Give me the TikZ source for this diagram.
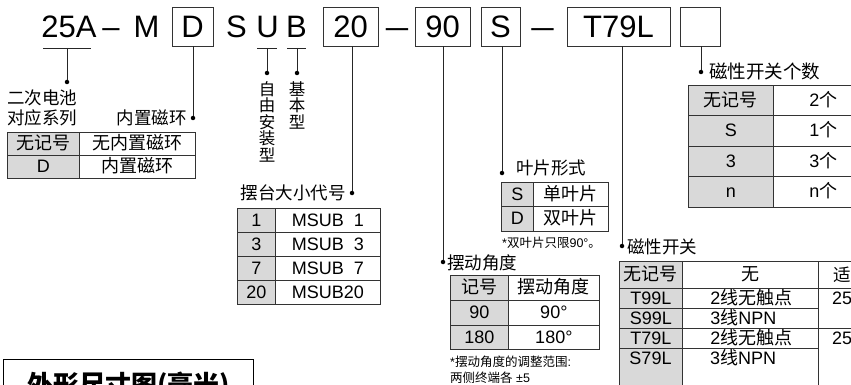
\documentclass[tikz,border=0pt]{standalone}
\usepackage{fontspec}
\setmainfont{Liberation Sans}
\newfontfamily\cjk{Noto Sans CJK SC}
\newcommand\zh[1]{{\cjk #1}}
\newcommand\longdash{\scalebox{1.3}[1]{--}}

\tikzset{
  code/.style={font=\fontsize{31}{31}\selectfont, inner sep=0pt, text height=22pt, text depth=0pt},
  codebox/.style={code, draw=black!80, line width=0.8pt, minimum height=39pt},
  lbl/.style={font=\cjk\fontsize{17.5}{18}\selectfont, inner sep=0pt},
  note/.style={font=\fontsize{12.5}{13}\selectfont, inner sep=0pt, anchor=west},
  cell/.style 2 args={draw=black!80, line width=0.7pt, inner sep=0pt, anchor=north west,
    minimum width=#1, minimum height=#2, text height=13pt, text depth=1pt,
    font=\fontsize{18}{20}\selectfont},
  gcell/.style 2 args={cell={#1}{#2}, fill=black!15},
  lcell/.style={cell={136pt}{20pt}, text width=80pt, inner xsep=28pt, align=left},
  dot/.style={circle, fill=black, inner sep=0pt, minimum size=4.5pt},
  link/.style={line width=0.8pt, black!85},
}

\begin{document}
\begin{tikzpicture}[x=1pt,y=-1pt]
  \useasboundingbox (0,0) rectangle (851,385);

  % model code
  \node[code] (t25a) at (69,26.5) {25A};
  \node[code] (dash1) at (111,26.5) {--};
  \node[code] (tm) at (146.5,26.5) {M};
  \node[codebox, minimum width=41pt] (bd) at (192.5,26.5) {D};
  \node[code] (ts) at (236.5,26.5) {S};
  \node[code] (tu) at (267.5,26.5) {U};
  \node[code] (tb) at (296.5,26.5) {B};
  \node[codebox, minimum width=55pt] (b20) at (350.5,26.5) {20};
  \node[code] (dash2) at (397,26.5) {\longdash};
  \node[codebox, minimum width=55pt] (b90) at (442.5,26.5) {90};
  \node[codebox, minimum width=39pt] (bs) at (500.5,26.5) {S};
  \node[code] (dash3) at (542.5,26.5) {\longdash};
  \node[codebox, minimum width=103pt] (bsw) at (618.5,26.5) {T79L};
  \node[codebox, minimum width=40pt] (bn) at (700,26.5) {};

  % dots
  \node[dot] (d25a) at (67,82) {};
  \node[dot] (dd) at (193,118) {};
  \node[dot] (du) at (267,73) {};
  \node[dot] (db) at (297,73) {};
  \node[dot] (d20) at (352,193) {};
  \node[dot] (d90) at (443,262) {};
  \node[dot] (ds) at (502,173) {};
  \node[dot] (dsw) at (622,246) {};
  \node[dot] (dn) at (701,72) {};

  % leaders
  \draw[link] (43,48) -- (91,48);
  \draw[link] (67,48) -- (d25a);
  \draw[link] (bd.south -| dd) -- (dd);
  \draw[link] (257,48) -- (277,48);
  \draw[link] (267,48) -- (du);
  \draw[link] (287,48) -- (306,48);
  \draw[link] (297,48) -- (db);
  \draw[link] (b20.south -| d20) -- (d20);
  \draw[link] (b90.south -| d90) -- (d90);
  \draw[link] (bs.south -| ds) -- (ds);
  \draw[link] (bsw.south -| dsw) -- (dsw);
  \draw[link] (bn.south -| dn) -- (dn);

  % labels
  \node[lbl, anchor=west] (l25a) at (7,98) {二次电池};
  \node[lbl, anchor=west] (l25b) at (7,118) {对应系列};
  \node[lbl, anchor=east] (ld) at (187,118) {内置磁环};
  \node[lbl, anchor=north, align=center, font=\cjk\fontsize{16.5}{16.6}\selectfont] (lu) at (267,81) {自\\由\\安\\装\\型};
  \node[lbl, anchor=north, align=center, font=\cjk\fontsize{16.5}{16.6}\selectfont] (lb) at (297,81) {基\\本\\型};
  \node[lbl, anchor=east] (l20) at (346,193) {摆台大小代号};
  \node[lbl, anchor=west] (l90) at (447,263) {摆动角度};
  \node[lbl, anchor=west] (ls) at (516,168) {叶片形式};
  \node[lbl, anchor=west] (lsw) at (627,247) {磁性开关};
  \node[lbl, anchor=west, font=\cjk\fontsize{18.5}{19}\selectfont] (ln) at (709,71) {磁性开关个数};

  % magnet ring
  \node[gcell={72pt}{23pt}] (mag-11) at (7,132) {\zh{无记号}};
  \node[cell={116pt}{23pt}] (mag-12) at (79,132) {\zh{无内置磁环}};
  \node[gcell={72pt}{23pt}] (mag-21) at (7,155) {D};
  \node[cell={116pt}{23pt}] (mag-22) at (79,155) {\zh{内置磁环}};

  % table size
  \node[gcell={38pt}{24pt}] (sz-11) at (237,208) {1};
  \node[cell={105pt}{24pt}] (sz-12) at (275,208) {MSUB\ \ 1};
  \node[gcell={38pt}{24pt}] (sz-21) at (237,232) {3};
  \node[cell={105pt}{24pt}] (sz-22) at (275,232) {MSUB\ \ 3};
  \node[gcell={38pt}{24pt}] (sz-31) at (237,256) {7};
  \node[cell={105pt}{24pt}] (sz-32) at (275,256) {MSUB\ \ 7};
  \node[gcell={38pt}{24pt}] (sz-41) at (237,280) {20};
  \node[cell={105pt}{24pt}] (sz-42) at (275,280) {MSUB20};

  % vane type
  \node[gcell={32pt}{24pt}] (vn-11) at (501,182) {S};
  \node[cell={75pt}{24pt}] (vn-12) at (533,182) {\zh{单叶片}};
  \node[gcell={32pt}{25pt}] (vn-21) at (501,206) {D};
  \node[cell={75pt}{25pt}] (vn-22) at (533,206) {\zh{双叶片}};
  \node[note] (nvn) at (502,243) {*\zh{双叶片只限}90°\zh{。}};

  % rotation angle
  \node[gcell={58pt}{25pt}] (ang-11) at (450,275) {\zh{记号}};
  \node[cell={91pt}{25pt}] (ang-12) at (508,275) {\zh{摆动角度}};
  \node[gcell={58pt}{25pt}] (ang-21) at (450,300) {90};
  \node[cell={91pt}{25pt}] (ang-22) at (508,300) {90°};
  \node[gcell={58pt}{24pt}] (ang-31) at (450,325) {180};
  \node[cell={91pt}{24pt}] (ang-32) at (508,325) {180°};
  \node[note] (nang1) at (450,362) {*\zh{摆动角度的调整范围}:};
  \node[note] (nang2) at (450,378) {\zh{两侧终端各} ±5};

  % switch count
  \node[gcell={85pt}{30pt}] (cnt-11) at (688,85) {\zh{无记号}};
  \node[cell={100pt}{30pt}] (cnt-12) at (773,85) {2\zh{个}};
  \node[gcell={85pt}{31pt}] (cnt-21) at (688,115) {S};
  \node[cell={100pt}{31pt}] (cnt-22) at (773,115) {1\zh{个}};
  \node[gcell={85pt}{30pt}] (cnt-31) at (688,146) {3};
  \node[cell={100pt}{30pt}] (cnt-32) at (773,146) {3\zh{个}};
  \node[gcell={85pt}{31pt}] (cnt-41) at (688,176) {n};
  \node[cell={100pt}{31pt}] (cnt-42) at (773,176) {n\zh{个}};

  % switch type
  \node[gcell={63pt}{27pt}] (sw-01) at (619,261) {\zh{无记号}};
  \node[cell={136pt}{27pt}] (sw-02) at (682,261) {\zh{无}};
  \node[cell={80pt}{27pt}] (sw-03) at (818,261) {};
  \node[gcell={63pt}{20pt}] (sw-11) at (619,288) {T99L};
  \node[lcell] (sw-12) at (682,288) {2\zh{线无触点}};
  \node[gcell={63pt}{20pt}] (sw-21) at (619,308) {S99L};
  \node[lcell] (sw-22) at (682,308) {3\zh{线}NPN};
  \node[cell={80pt}{40pt}] (sw-13) at (818,288) {};
  \node[gcell={63pt}{20pt}] (sw-31) at (619,328) {T79L};
  \node[lcell] (sw-32) at (682,328) {2\zh{线无触点}};
  \node[gcell={63pt}{42pt}] (sw-41) at (619,348) {};
  \node[cell={136pt}{42pt}] (sw-42) at (682,348) {};
  \node[cell={80pt}{62pt}] (sw-33) at (818,328) {};
  \node[font=\fontsize{18}{20}\selectfont, inner sep=0pt] (sw-41t) at (650.5,358) {S79L};
  \node[font=\fontsize{18}{20}\selectfont, inner sep=0pt, anchor=west] (sw-42t) at (710,358) {3\zh{线}NPN};
  \node[lbl, anchor=west] (sw-03t) at (833,274.5) {适};
  \node[font=\fontsize{18}{20}\selectfont, inner sep=0pt, anchor=west] (sw-13t) at (832,298) {25};
  \node[font=\fontsize{18}{20}\selectfont, inner sep=0pt, anchor=west] (sw-33t) at (832,338) {25};

  % dimensions title
  \node[draw, line width=1.2pt, inner sep=0pt, anchor=north west, minimum width=250pt, minimum height=52pt,
    font=\cjk\bfseries\fontsize{26}{28}\selectfont] (dims) at (3,359) {外形尺寸图(毫米)};
\end{tikzpicture}
\end{document}
